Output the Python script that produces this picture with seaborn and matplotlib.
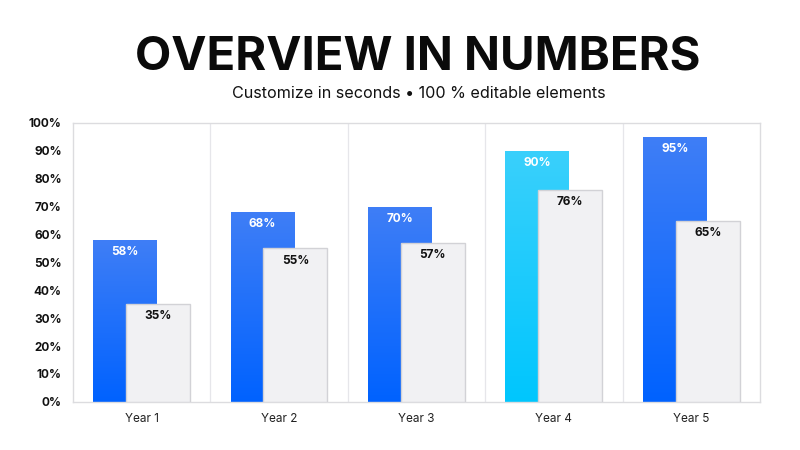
import matplotlib
matplotlib.use("Agg")
import matplotlib.pyplot as plt
import numpy as np
import pandas as pd
import seaborn as sns
from matplotlib.colors import LinearSegmentedColormap

years = ["Year 1", "Year 2", "Year 3", "Year 4", "Year 5"]
series_a = [58, 68, 70, 90, 95]
series_b = [35, 55, 57, 76, 65]
y_ticks = [0, 10, 20, 30, 40, 50, 60, 70, 80, 90, 100]

sns.set_theme(style="white")
plt.rcParams["font.family"] = ["Inter", "DejaVu Sans"]

fig = plt.figure(figsize=(8, 4.5), dpi=100)
ax = fig.add_axes([0.091, 0.107, 0.859, 0.62])

idx = np.arange(len(years))
shift = 0.12
bar_w = 0.465

df_a = pd.DataFrame({"pos": idx - shift, "value": series_a})
df_b = pd.DataFrame({"pos": idx + shift, "value": series_b})

sns.barplot(data=df_a, x="pos", y="value", native_scale=True, width=bar_w,
            color="#1a6cff", linewidth=0, ax=ax, zorder=1)
n_a = len(ax.patches)
sns.barplot(data=df_b, x="pos", y="value", native_scale=True, width=bar_w,
            color="#f1f0f4", edgecolor="#d2d2d6", linewidth=1.0, ax=ax, zorder=3)

blue = LinearSegmentedColormap.from_list("blue", ["#0062ff", "#3f7ef6"])
cyan = LinearSegmentedColormap.from_list("cyan", ["#00c6fe", "#3ad0fb"])
grad = np.linspace(0, 1, 256).reshape(-1, 1)

for i, p in enumerate(ax.patches[:n_a]):
    x0, y0 = p.get_x(), p.get_y()
    w, h = p.get_width(), p.get_height()
    cmap = cyan if i == 3 else blue
    im = ax.imshow(grad, cmap=cmap, origin="lower", aspect="auto",
                   extent=[x0, x0 + w, y0, y0 + h], zorder=2)
    im.set_clip_path(p)

for i, p in enumerate(ax.patches[:n_a]):
    ax.text(p.get_x() + p.get_width() / 2, p.get_height() - 2.2, f"{series_a[i]}%",
            ha="center", va="top", color="white", fontsize=8.5, fontweight="bold", zorder=5)
for i, p in enumerate(ax.patches[n_a:]):
    ax.text(p.get_x() + p.get_width() / 2, p.get_height() - 2.2, f"{series_b[i]}%",
            ha="center", va="top", color="#111111", fontsize=8.5, fontweight="bold", zorder=5)

for b in idx[:-1] + 0.5:
    ax.axvline(b, color="#e6e6ea", linewidth=0.9, zorder=0)

ax.set_xlim(-0.5, len(years) - 0.5)
ax.set_ylim(0, 100)
ax.set_xticks(idx)
ax.set_xticklabels(years, fontsize=8.5, color="#222222")
ax.set_yticks(y_ticks)
ax.set_yticklabels([f"{t}%" for t in y_ticks], fontsize=8.5, fontweight="bold", color="#111111")
ax.set_xlabel("")
ax.set_ylabel("")
ax.tick_params(axis="both", length=0, pad=8)
for s in ax.spines.values():
    s.set_color("#dcdcdf")
    s.set_linewidth(1.0)

fig.text(0.522, 0.872, "OVERVIEW IN NUMBERS", ha="center", va="center",
         fontsize=34, fontweight="bold", color="#0a0a0a")
fig.text(0.523, 0.793, "Customize in seconds \u2022 100 % editable elements", ha="center",
         va="center", fontsize=11.6, color="#111111")

fig.savefig("out.png", dpi=100)
